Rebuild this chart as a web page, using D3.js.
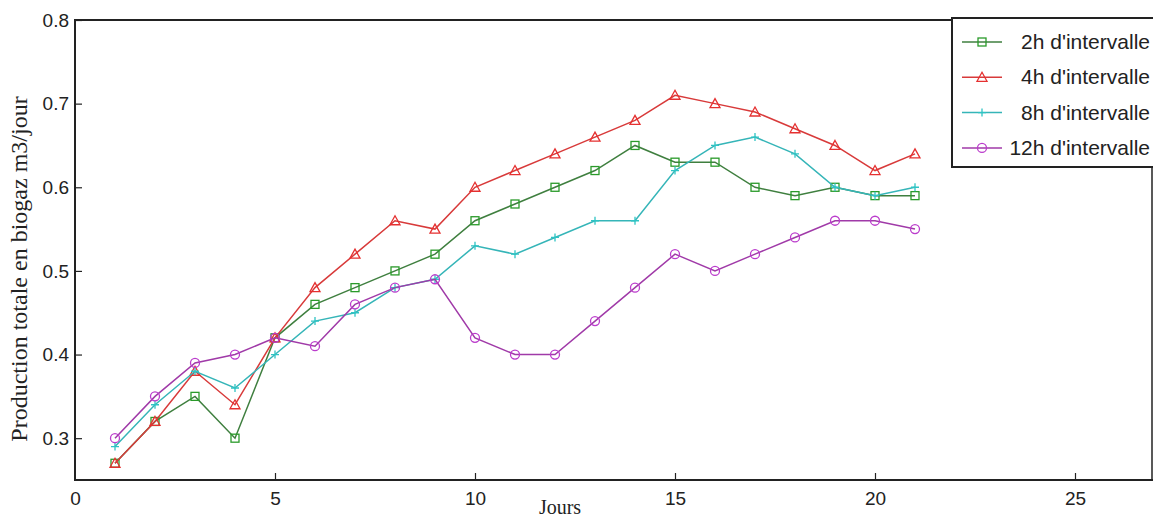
<!DOCTYPE html>
<html>
<head>
<meta charset="utf-8">
<script src="https://cdn.jsdelivr.net/npm/d3@7"></script>
<style>
  body { margin: 0; background: #fff; }
</style>
</head>
<body>
<div id="chart"></div>
<script>
var width = 1153;
var height = 518;

var jours = [1, 2, 3, 4, 5, 6, 7, 8, 9, 10, 11, 12, 13, 14, 15, 16, 17, 18, 19, 20, 21];
var h2 = [0.27, 0.32, 0.35, 0.30, 0.42, 0.46, 0.48, 0.50, 0.52, 0.56, 0.58, 0.60, 0.62, 0.65, 0.63, 0.63, 0.60, 0.59, 0.60, 0.59, 0.59];
var h4 = [0.27, 0.32, 0.38, 0.34, 0.42, 0.48, 0.52, 0.56, 0.55, 0.60, 0.62, 0.64, 0.66, 0.68, 0.71, 0.70, 0.69, 0.67, 0.65, 0.62, 0.64];
var h8 = [0.29, 0.34, 0.38, 0.36, 0.40, 0.44, 0.45, 0.48, 0.49, 0.53, 0.52, 0.54, 0.56, 0.56, 0.62, 0.65, 0.66, 0.64, 0.60, 0.59, 0.60];
var h12 = [0.30, 0.35, 0.39, 0.40, 0.42, 0.41, 0.46, 0.48, 0.49, 0.42, 0.40, 0.40, 0.44, 0.48, 0.52, 0.50, 0.52, 0.54, 0.56, 0.56, 0.55];

var seriesNames = ["2h d'intervalle", "4h d'intervalle", "8h d'intervalle", "12h d'intervalle"];
var xTicks = [0, 5, 10, 15, 20, 25];
var yTicks = [0.3, 0.4, 0.5, 0.6, 0.7, 0.8];

var series = [
  { name: seriesNames[0], values: h2, color: "#3f7f3f", mcolor: "#2a9a2a", marker: "square" },
  { name: seriesNames[1], values: h4, color: "#d83a3a", mcolor: "#e53030", marker: "triangle" },
  { name: seriesNames[2], values: h8, color: "#35b5b8", mcolor: "#2ec4c4", marker: "plus" },
  { name: seriesNames[3], values: h12, color: "#a03aa8", mcolor: "#bb3ccc", marker: "circle" }
];

// plot box (top is a reserved window name, so use pTop)
var pLeft = 75, pRight = 1155, pTop = 20, pBottom = 480;

var x = d3.scaleLinear().domain([0, 27]).range([pLeft, pRight]);
var y = d3.scaleLinear().domain([0.25, 0.8]).range([pBottom, pTop]);

var svg = d3.select("#chart")
  .append("svg")
  .attr("width", width)
  .attr("height", height);

var line = d3.line()
  .x(function(d, i) { return x(jours[i]); })
  .y(function(d) { return y(d); });

function drawMarker(g, type, cx, cy, color) {
  if (type == "square") {
    g.append("rect").attr("x", cx - 4).attr("y", cy - 4).attr("width", 8).attr("height", 8)
      .attr("fill", "none").attr("stroke", color).attr("stroke-width", 1.3);
  } else if (type == "triangle") {
    g.append("path").attr("d", "M" + cx + "," + (cy - 5) + "L" + (cx + 5) + "," + (cy + 4) + "L" + (cx - 5) + "," + (cy + 4) + "Z")
      .attr("fill", "none").attr("stroke", color).attr("stroke-width", 1.3);
  } else if (type == "plus") {
    g.append("path").attr("d", "M" + (cx - 4) + "," + cy + "H" + (cx + 4) + "M" + cx + "," + (cy - 4) + "V" + (cy + 4))
      .attr("fill", "none").attr("stroke", color).attr("stroke-width", 1.3);
  } else {
    g.append("circle").attr("cx", cx).attr("cy", cy).attr("r", 4.5)
      .attr("fill", "none").attr("stroke", color).attr("stroke-width", 1.3);
  }
}

var group = svg.selectAll("g.series")
  .data(series)
  .enter()
  .append("g")
  .attr("class", "series");

group.append("path")
  .attr("d", function(d) { return line(d.values); })
  .attr("fill", "none")
  .attr("stroke", function(d) { return d.color; })
  .attr("stroke-width", 1.5);

group.each(function(s) {
  var g = d3.select(this);
  s.values.forEach(function(v, i) {
    drawMarker(g, s.marker, x(jours[i]), y(v), s.mcolor);
  });
});

// axes
var xAxis = d3.axisBottom(x).tickValues(xTicks).tickSizeInner(-7).tickSizeOuter(0).tickPadding(12);
var gx = svg.append("g").attr("transform", "translate(0," + pBottom + ")").call(xAxis);
var yAxis = d3.axisLeft(y).tickValues(yTicks).tickFormat(d3.format(".1f")).tickSizeInner(-7).tickSizeOuter(0).tickPadding(6);
var gy = svg.append("g").attr("transform", "translate(" + pLeft + ",0)").call(yAxis);

[gx, gy].forEach(function(g) {
  g.select(".domain").remove();
  g.selectAll(".tick line").attr("stroke", "#222").attr("stroke-width", 1.2);
  g.selectAll(".tick text").attr("font-family", "Liberation Sans, Arial, sans-serif")
    .attr("font-size", "19px").attr("fill", "#222");
});
gx.selectAll(".tick").filter(function(d) { return d == 0; }).select("line").remove();

// frame
svg.append("path")
  .attr("d", "M" + pRight + "," + pTop + "H" + pLeft + "V" + pBottom + "H" + pRight)
  .attr("fill", "none")
  .attr("stroke", "#222")
  .attr("stroke-width", 2);
svg.append("line")
  .attr("x1", 1152).attr("x2", 1152).attr("y1", pTop).attr("y2", pBottom)
  .attr("stroke", "#222").attr("stroke-width", 1.5);

// labels
svg.append("text")
  .attr("x", 560).attr("y", 514)
  .attr("text-anchor", "middle")
  .attr("font-family", "Liberation Serif, Times New Roman, serif")
  .attr("font-size", "20px")
  .attr("fill", "#222")
  .text("Jours");

svg.append("text")
  .attr("transform", "translate(27,269) rotate(-90)")
  .attr("text-anchor", "middle")
  .attr("font-family", "Liberation Serif, Times New Roman, serif")
  .attr("font-size", "24px")
  .attr("fill", "#222")
  .text("Production totale en biogaz m3/jour");

// legend
var legend = svg.append("g");
legend.append("rect")
  .attr("x", 952).attr("y", 18).attr("width", 210).attr("height", 149)
  .attr("fill", "#fff").attr("stroke", "#222").attr("stroke-width", 2);

series.forEach(function(s, i) {
  var ly = 42 + i * 35.3;
  legend.append("line")
    .attr("x1", 962).attr("x2", 1002).attr("y1", ly).attr("y2", ly)
    .attr("stroke", s.color).attr("stroke-width", 1.5);
  drawMarker(legend, s.marker, 982, ly, s.mcolor);
  legend.append("text")
    .attr("x", 1150).attr("y", ly + 7)
    .attr("text-anchor", "end")
    .attr("font-family", "Liberation Sans, Arial, sans-serif")
    .attr("font-size", "21px")
    .attr("fill", "#222")
    .text(s.name);
});
</script>
</body>
</html>
